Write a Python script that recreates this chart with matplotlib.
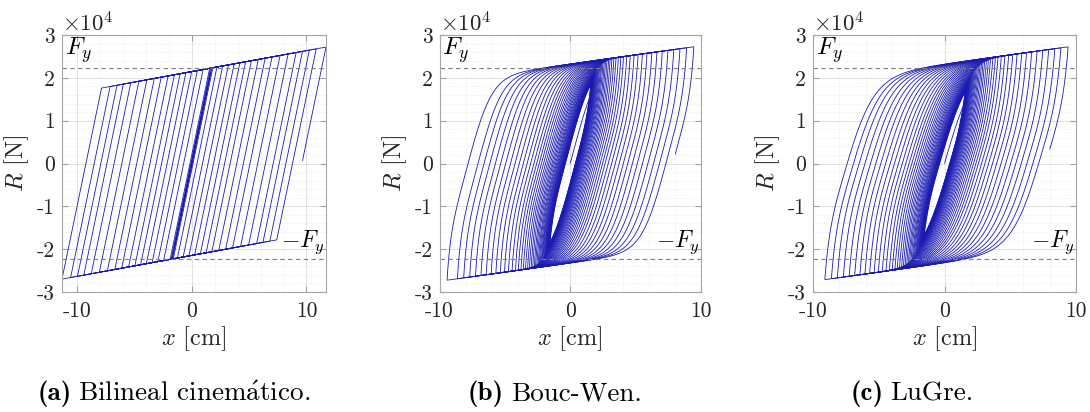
import numpy as np
import matplotlib.pyplot as plt
from matplotlib.collections import LineCollection
from matplotlib.ticker import MultipleLocator

plt.rcParams['mathtext.fontset'] = 'cm'
plt.rcParams['font.family'] = ['cmr10', 'DejaVu Serif']
plt.rcParams['axes.unicode_minus'] = False

# displacement reversal points [cm] (last value = end point)
peaks_bil = [0.5, -0.6, 0.8, -0.9, 1.1, -1.2, 1.4, -1.5, 1.65, -1.7, 1.76, -1.8,
             1.84, -1.88, 2.2, -2.45, 2.7, -2.95, 3.2, -3.45, 3.7, -3.95, 4.2, -4.45,
             4.7, -4.95, 5.2, -5.5, 5.8, -6.1, 6.4, -6.7, 7.0, -7.35, 7.7, -8.05,
             8.4, -8.75, 9.1, -9.4, 9.65, -9.95, 10.25, -10.55, 10.85, -11.3, 11.7, 9.65]
peaks_bw = [1.55, -1.56, 1.57, -1.58, 1.59, -1.6, 1.61, -1.62, 1.63, -1.64, 1.65, -1.66,
            1.67, -1.68, 1.69, -1.7, 1.71, -1.72, 1.73, -1.74, 1.75, -1.77, 1.79, -1.81,
            1.83, -1.85, 1.87, -1.89, 1.91, -1.93, 1.95, -1.97, 2.0, -2.03, 2.06, -2.09,
            2.12, -2.15, 2.18, -2.21, 2.25, -2.29, 2.33, -2.37, 2.41, -2.45, 2.5, -2.55,
            2.6, -2.65, 2.7, -2.75, 2.81, -2.87, 2.93, -2.99, 3.05, -3.12, 3.19, -3.26,
            3.34, -3.42, 3.5, -3.59, 3.68, -3.77, 3.87, -3.97, 4.07, -4.19, 4.32, -4.45,
            4.59, -4.73, 4.88, -5.03, 5.19, -5.35, 5.52, -5.69, 5.87, -6.05, 6.24, -6.43,
            6.63, -6.83, 7.04, -7.25, 7.47, -7.69, 7.92, -8.15, 8.39, -8.63, 8.9, -9.42,
            9.45, 8.03]
peaks_lugre = [1.55, -1.56, 1.57, -1.58, 1.59, -1.6, 1.61, -1.62, 1.63, -1.64, 1.65, -1.66,
               1.67, -1.68, 1.69, -1.7, 1.71, -1.72, 1.73, -1.74, 1.75, -1.77, 1.79, -1.81,
               1.83, -1.85, 1.87, -1.89, 1.91, -1.93, 1.95, -1.97, 2.0, -2.03, 2.06, -2.09,
               2.12, -2.15, 2.18, -2.21, 2.25, -2.29, 2.33, -2.37, 2.41, -2.45, 2.5, -2.55,
               2.6, -2.65, 2.7, -2.75, 2.81, -2.87, 2.93, -2.99, 3.05, -3.12, 3.19, -3.26,
               3.34, -3.42, 3.5, -3.59, 3.68, -3.77, 3.87, -3.97, 4.07, -4.19, 4.32, -4.45,
               4.59, -4.73, 4.88, -5.03, 5.19, -5.35, 5.52, -5.69, 5.87, -6.05, 6.24, -6.43,
               6.63, -6.83, 7.04, -7.25, 7.47, -7.69, 7.92, -8.15, 8.39, -8.6, 8.85, -9.1,
               9.4, 8.0]

Fy = 22300.0          # N
cap_bold = ['(a)', '(b)', '(c)']
cap_text = [r'Bilineal cinem$\acute{\mathrm{a}}$tico.', 'Bouc-Wen.', 'LuGre.']
yticks = [-3, -2, -1, 0, 1, 2, 3]


def path(points, h=0.005):
    pts = [0.0] + list(points)
    segs = []
    for a, b in zip(pts[:-1], pts[1:]):
        n = max(int(np.ceil(abs(b - a) / h)), 1)
        segs.append(np.linspace(a, b, n + 1))
    return segs


def bilinear(segs, k, fy, alpha):
    out, r = [], 0.0
    for x in segs:
        rs = np.empty_like(x)
        rs[0] = r
        for i in range(1, len(x)):
            rt = r + k * (x[i] - x[i - 1])
            up = alpha * k * x[i] + (1 - alpha) * fy
            lo = alpha * k * x[i] - (1 - alpha) * fy
            r = min(max(rt, lo), up)
            rs[i] = r
        out.append(rs)
    return out


def bouc_wen(segs, k, alpha, dy, n, beta, gamma):
    out, w = [], 0.0
    for x in segs:
        rs = np.empty_like(x)
        rs[0] = alpha * k * x[0] + (1 - alpha) * k * dy * w
        for i in range(1, len(x)):
            dx = (x[i] - x[i - 1]) / dy
            w += dx * (1 - abs(w) ** n * (beta * np.sign(dx * w) + gamma))
            rs[i] = alpha * k * x[i] + (1 - alpha) * k * dy * w
        out.append(rs)
    return out


seg_a = path(peaks_bil)
res_a = bilinear(seg_a, 12950.0, Fy, 0.0378)
seg_b = path(peaks_bw)
res_b = bouc_wen(seg_b, 11490.0, 0.037, 2.1, 2.5, 2.3, -1.3)
seg_c = path(peaks_lugre)
res_c = bouc_wen(seg_c, 10530.0, 0.0404, 2.3, 2.0, 2.0, -1.0)

fig = plt.figure(figsize=(10.9, 4.12), dpi=100)
boxes = [[62 / 1090, 120 / 412, 264 / 1090, 257 / 412],
         [439.5 / 1090, 120 / 412, 261.5 / 1090, 257 / 412],
         [813 / 1090, 120 / 412, 263 / 1090, 257 / 412]]
cap_x = [174, 555, 912]
data = [(seg_a, res_a), (seg_b, res_b), (seg_c, res_c)]
renderer = fig.canvas.get_renderer()

for i, ((xs, rs), box) in enumerate(zip(data, boxes)):
    ax = fig.add_axes(box)
    lines = [np.column_stack([x, r]) for x, r in zip(xs, rs)]
    ax.add_collection(LineCollection(lines, colors='#1a1ab3', linewidths=0.6))
    ax.axhline(Fy, color='#808080', lw=0.8, dashes=(4, 3))
    ax.axhline(-Fy, color='#808080', lw=0.8, dashes=(4, 3))
    if i == 0:
        allx = np.concatenate(xs)
        ax.set_xlim(allx.min(), allx.max())
    else:
        ax.set_xlim(-10, 10)
    ax.set_ylim(-3e4, 3e4)
    ax.set_xticks([-10, 0, 10])
    ax.set_xticklabels(['-10', '0', '10'])
    ax.set_yticks([v * 1e4 for v in yticks])
    ax.set_yticklabels([str(v) for v in yticks])
    ax.xaxis.set_minor_locator(MultipleLocator(2))
    ax.yaxis.set_minor_locator(MultipleLocator(2000))
    ax.grid(True, which='major', color='#dedede', lw=0.6)
    ax.grid(True, which='minor', color='#e4e4e4', lw=0.5, ls=':')
    ax.set_axisbelow(True)
    ax.tick_params(which='both', direction='in', top=True, right=True,
                   color='#a0a0a0', labelsize=15.5, labelcolor='#262626')
    ax.tick_params(which='major', length=4)
    ax.tick_params(which='minor', length=0)
    ax.tick_params(axis='x', pad=7)
    ax.tick_params(axis='y', pad=5)
    for s in ax.spines.values():
        s.set_color('#a6a6a6')
        s.set_linewidth(0.8)
    ax.set_xlabel(r'$x$ [cm]', fontsize=17.5, color='#262626', labelpad=2)
    ax.set_ylabel(r'$R$ [N]', fontsize=17.5, color='#262626', labelpad=4)
    ax.text(0.0, 1.0, r'$\times10^4$', transform=ax.transAxes, fontsize=16.5,
            color='#262626', ha='left', va='bottom')
    ax.text(0.01, Fy + 700, r'$F_y$', transform=ax.get_yaxis_transform(),
            fontsize=18, ha='left', va='bottom')
    ax.text(0.995, -Fy + 700, r'$-F_y$', transform=ax.get_yaxis_transform(),
            fontsize=17, ha='right', va='bottom')

    # caption: bold label followed by regular text, centred as a whole
    t1 = fig.text(0, 18, cap_bold[i], fontfamily='cmb10', fontsize=19.5,
                  transform=None, va='center')
    t2 = fig.text(0, 18, cap_text[i], fontsize=19.5, transform=None, va='center')
    w1 = t1.get_window_extent(renderer).width
    w2 = t2.get_window_extent(renderer).width
    gap = 7
    x0 = cap_x[i] - (w1 + gap + w2) / 2
    t1.set_x(x0)
    t2.set_x(x0 + w1 + gap)

fig.savefig('out.png', dpi=100)
